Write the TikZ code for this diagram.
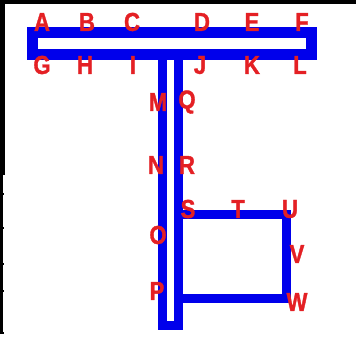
\documentclass[tikz,border=0pt]{standalone}
\usepackage{fontspec}
\setmainfont{Liberation Sans}
\newfontfamily\lblfont[FakeStretch=0.85,FakeBold=1.2]{Liberation Sans Bold}
\definecolor{tblue}{RGB}{0,0,235}
\definecolor{tred}{RGB}{228,32,36}
\tikzset{
  wire/.style={draw=tblue, line width=9pt, line join=miter},
  lbl/.style={text=tred, font=\lblfont\fontsize{26}{26}\selectfont, inner sep=0pt, anchor=center}
}
\begin{document}
\begin{tikzpicture}[x=1pt,y=-1pt]
\useasboundingbox (0,0) rectangle (356,337);
\fill[white] (0,0) rectangle (356,337);
% black frame pieces
\fill[black] (0,0) rectangle (356,4);
\fill[black] (0,0) rectangle (5,175);
\fill[black] (0,175) rectangle (2.5,333);
\foreach \yy in {193,227,263,290,332} \fill[black] (0,\yy) rectangle (4,\yy+1.5);
% T bar
\draw[wire, line width=11pt] (32.5,33) rectangle (311.5,54.5);
% stem (U shape)
\coordinate (stL) at (162,55);
\coordinate (stR) at (178,55);
\coordinate (stB) at (170,325.5);
\draw[wire] (stL) -- (stL |- stB) -- (stR |- stB) -- (stR);
% square
\coordinate (sqS) at (178,214);
\coordinate (sqU) at (286,214);
\coordinate (sqW) at (286,298);
\coordinate (sqP) at (178,298);
\draw[wire] (sqS) -- (sqU) -- (sqW) -- (sqP);
% labels
\node[lbl] (A) at (42,22) {A};
\node[lbl] (B) at (87,22) {B};
\node[lbl] (C) at (132,22) {C};
\node[lbl] (D) at (202,22) {D};
\node[lbl] (E) at (252,22) {E};
\node[lbl] (F) at (302,22) {F};
\node[lbl] (G) at (42,65) {G};
\node[lbl] (H) at (85,65) {H};
\node[lbl] (I) at (133,65) {I};
\node[lbl] (J) at (200,65) {J};
\node[lbl] (K) at (252,65) {K};
\node[lbl] (L) at (300,65) {L};
\node[lbl] (M) at (158,102) {M};
\node[lbl] (Q) at (187,102) {Q};
\node[lbl] (N) at (156,165) {N};
\node[lbl] (R) at (187,165) {R};
\node[lbl] (S) at (188,209) {S};
\node[lbl] (T) at (238,209) {T};
\node[lbl] (U) at (290,209) {U};
\node[lbl] (O) at (158,235) {O};
\node[lbl] (V) at (297,254) {V};
\node[lbl] (P) at (157,291) {P};
\node[lbl] (W) at (297,302) {W};
\end{tikzpicture}
\end{document}
